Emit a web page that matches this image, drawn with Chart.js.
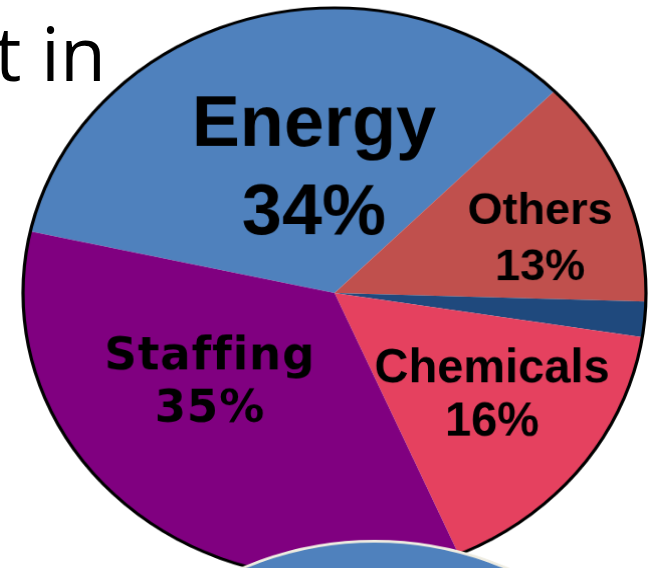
<!DOCTYPE html>
<html>
<head>
<meta charset="utf-8">
<script src="https://cdn.jsdelivr.net/npm/chart.js@4/dist/chart.umd.min.js"></script>
<style>
  html, body { margin: 0; padding: 0; background: #fff; }
  body { width: 658px; height: 568px; overflow: hidden; position: relative; }
  #title {
    position: absolute; right: 552px; top: 15px;
    font-family: "Open Sans", sans-serif; font-size: 75px; line-height: 1;
    color: #000; white-space: nowrap; z-index: 0;
  }
  canvas { position: absolute; }
  #mainPie { left: 21px; top: 6px; z-index: 1; }
  #nextPie { left: 61px; top: 538px; z-index: 2; }
</style>
</head>
<body>
<div id="title">t in</div>
<canvas id="mainPie" width="624" height="624" style="width:627px;height:574px"></canvas>
<canvas id="nextPie" width="624" height="624" style="width:627px;height:574px"></canvas>
<script>
const categories = ["Energy", "Others", "", "Chemicals", "Staffing"];
const shares = [34, 13, 2, 16, 35];
const sliceColors = ["#4F81BD", "#C0504D", "#1F497D", "#E5415F", "#800080"];

// the next pie on the slide, only its top edge shows
const nextShares = [100];
const nextColors = ["#4F81BD"];

// label spots as fractions of the radius from the centre
const labelSpots = [
  { fx: -0.066, fy: -0.432, size: 72, gap: 88, spacing: "0px", family: "Liberation Sans, Arial, sans-serif" },
  { fx: 0.660, fy: -0.186, size: 45, gap: 56, spacing: "0px", family: "Liberation Sans, Arial, sans-serif" },
  null,
  { fx: 0.506, fy: 0.361, size: 47, gap: 53, spacing: "0px", family: "Liberation Sans, Arial, sans-serif" },
  { fx: -0.400, fy: 0.319, size: 45, gap: 52, spacing: "1px", family: "DejaVu Sans, Verdana, sans-serif" },
];

const sliceLabels = {
  id: "sliceLabels",
  afterDatasetsDraw(chart) {
    const ctx = chart.ctx;
    const meta = chart.getDatasetMeta(0);
    const first = meta.data[0];
    const cx = first.x, cy = first.y, r = first.outerRadius;
    const canvas = chart.canvas;
    const sx = canvas.clientWidth / canvas.width;
    const sy = canvas.clientHeight / canvas.height;

    ctx.save();
    ctx.beginPath();
    ctx.arc(cx, cy, r, 0, Math.PI * 2);
    ctx.lineWidth = 3.2;
    ctx.strokeStyle = "#000";
    ctx.stroke();
    ctx.restore();

    meta.data.forEach((arc, i) => {
      const spot = labelSpots[i];
      if (!spot) return;
      const lines = [categories[i], shares[i] + "%"];
      ctx.save();
      ctx.translate(cx + spot.fx * r, cy + spot.fy * r);
      ctx.scale(1 / sx, 1 / sy);
      ctx.fillStyle = "#000";
      ctx.textAlign = "center";
      ctx.textBaseline = "middle";
      ctx.font = "bold " + spot.size + "px " + spot.family;
      ctx.letterSpacing = spot.spacing;
      ctx.fillText(lines[0], 0, -spot.gap / 2);
      ctx.fillText(lines[1], 0, spot.gap / 2);
      ctx.restore();
    });
  },
};

const pieOptions = (rotation) => ({
  responsive: false,
  animation: false,
  devicePixelRatio: 1,
  rotation: rotation,
  layout: { padding: 2 },
  plugins: { legend: { display: false }, tooltip: { enabled: false } },
});

new Chart(document.getElementById("mainPie"), {
  type: "pie",
  data: {
    labels: categories,
    datasets: [{ data: shares, backgroundColor: sliceColors, borderWidth: 0 }],
  },
  options: pieOptions(-77.5),
  plugins: [sliceLabels],
});

new Chart(document.getElementById("nextPie"), {
  type: "pie",
  data: {
    labels: ["next"],
    datasets: [{ data: nextShares, backgroundColor: nextColors, borderColor: "#EEECE1", borderWidth: 3 }],
  },
  options: pieOptions(180),
});
</script>
</body>
</html>
